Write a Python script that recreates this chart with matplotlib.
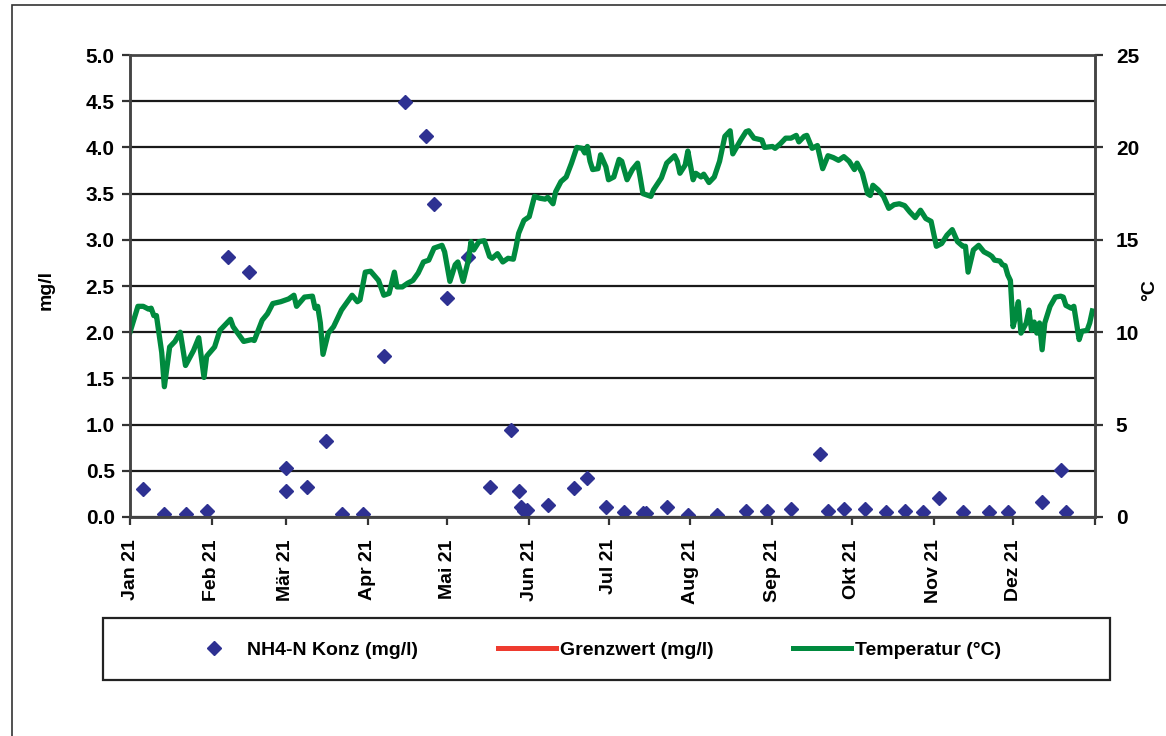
import matplotlib
matplotlib.use("Agg")
import matplotlib.pyplot as plt
import matplotlib.dates as mdates
from matplotlib.patches import Rectangle
from matplotlib.lines import Line2D
from matplotlib.ticker import FormatStrFormatter
import pandas as pd

plt.rcParams['font.family'] = ['Liberation Sans', 'DejaVu Sans']
plt.rcParams['font.weight'] = 'bold'

# NH4-N Messwerte (mg/l)
nh4_datum = ['2021-01-06', '2021-01-14', '2021-01-22', '2021-01-30', '2021-02-07', '2021-02-15',
             '2021-03-01', '2021-03-01', '2021-03-09', '2021-03-16', '2021-03-22', '2021-03-30',
             '2021-04-07', '2021-04-15', '2021-04-23', '2021-04-26', '2021-05-01', '2021-05-09',
             '2021-05-17', '2021-05-25', '2021-05-28', '2021-05-29', '2021-05-30', '2021-05-31',
             '2021-06-08', '2021-06-18', '2021-06-23', '2021-06-30', '2021-07-07', '2021-07-14',
             '2021-07-15', '2021-07-23', '2021-07-31', '2021-08-11', '2021-08-22', '2021-08-30',
             '2021-09-08', '2021-09-19', '2021-09-22', '2021-09-28', '2021-10-06', '2021-10-14',
             '2021-10-21', '2021-10-28', '2021-11-03', '2021-11-12', '2021-11-22', '2021-11-29',
             '2021-12-12', '2021-12-19', '2021-12-21']
nh4_wert = [0.30, 0.03, 0.03, 0.07, 2.81, 2.65,
            0.53, 0.28, 0.33, 0.82, 0.03, 0.03,
            1.74, 4.49, 4.12, 3.39, 2.37, 2.81,
            0.33, 0.94, 0.28, 0.11, 0.06, 0.08,
            0.13, 0.31, 0.42, 0.11, 0.05, 0.04,
            0.04, 0.11, 0.02, 0.02, 0.07, 0.07,
            0.09, 0.68, 0.07, 0.09, 0.09, 0.05,
            0.07, 0.05, 0.21, 0.05, 0.05, 0.05,
            0.16, 0.51, 0.05]

# Grenzwert: keine Werte im Zeitraum
grenzwert_datum = []
grenzwert_wert = []

# Temperatur (°C), Tag = Tage seit 1.1.2021
temp_tag = [0, 3, 5, 7, 8, 9, 10, 12, 13, 15, 17, 19, 21, 24, 26, 28, 29, 32, 34, 38,
            39, 43, 46, 47, 50, 52, 54, 57, 60, 62, 63, 66, 69, 70, 71, 72, 73, 75, 77, 80,
            84, 86, 87, 89, 91, 94, 96, 98, 100, 101, 103, 105, 107, 109, 111, 113, 115, 118, 119, 121,
            123, 124, 126, 128, 129, 130, 132, 134, 136, 137, 139, 141, 143, 145, 146, 147, 149, 151, 153, 155,
            157, 158, 160, 161, 163, 165, 167, 169, 171, 172, 173, 174, 175, 177, 178, 180, 181, 183, 185, 186,
            188, 190, 192, 193, 194, 197, 198, 201, 203, 206, 207, 208, 210, 211, 213, 214, 216, 217, 219, 221,
            223, 225, 227, 228, 231, 233, 234, 236, 239, 240, 243, 244, 246, 248, 250, 252, 253, 255, 256, 258,
            260, 262, 264, 266, 268, 270, 272, 274, 275, 277, 279, 280, 281, 283, 285, 287, 289, 291, 293, 295,
            297, 299, 301, 303, 305, 307, 309, 311, 313, 315, 316, 317, 319, 321, 323, 325, 326, 327, 329, 330,
            331, 332, 333, 334, 335, 336, 337, 339, 340, 341, 342, 343, 344, 345, 346, 348, 350, 352, 353, 354,
            356, 357, 359, 360, 362, 363, 364]
temp_wert = [10.0, 11.4, 11.4, 11.25, 11.3, 10.9, 10.9, 8.9, 7.05, 9.2, 9.5, 10.0, 8.2, 9.0, 9.7, 7.55, 8.7, 9.2, 10.1, 10.7,
             10.3, 9.5, 9.6, 9.55, 10.65, 11.0, 11.55, 11.65, 11.8, 12.0, 11.4, 11.9, 11.95, 11.3, 11.4, 10.5, 8.8, 9.95, 10.3, 11.2,
             12.0, 11.65, 11.75, 13.25, 13.3, 12.8, 12.0, 12.1, 13.25, 12.45, 12.45, 12.65, 12.8, 13.2, 13.8, 13.9, 14.55, 14.7, 14.35, 12.75,
             13.65, 13.8, 12.75, 13.9, 14.9, 14.45, 14.9, 14.95, 14.1, 14.0, 14.25, 13.8, 14.0, 13.95, 14.6, 15.35, 16.05, 16.25, 17.35, 17.25,
             17.2, 17.3, 16.95, 17.6, 18.15, 18.4, 19.15, 20.0, 19.95, 19.7, 20.05, 19.25, 18.8, 18.85, 19.6, 18.95, 18.25, 18.4, 19.35, 19.25,
             18.25, 18.8, 19.15, 18.35, 17.5, 17.35, 17.7, 18.35, 19.15, 19.55, 19.25, 18.6, 19.05, 19.8, 18.25, 18.6, 18.4, 18.55, 18.1, 18.4,
             19.25, 20.6, 20.9, 19.65, 20.4, 20.85, 20.9, 20.5, 20.4, 20.0, 20.05, 19.95, 20.2, 20.5, 20.5, 20.65, 20.3, 20.6, 20.65, 19.95,
             20.1, 18.85, 19.55, 19.45, 19.3, 19.5, 19.25, 18.8, 19.15, 18.6, 17.5, 17.4, 17.95, 17.7, 17.35, 16.7, 16.9, 16.95, 16.85, 16.5,
             16.2, 16.6, 16.15, 16.0, 14.65, 14.8, 15.25, 15.55, 14.9, 14.65, 14.65, 13.25, 14.45, 14.7, 14.35, 14.2, 14.1, 13.9, 13.85, 13.65,
             13.6, 13.1, 12.8, 10.3, 10.85, 11.65, 9.95, 10.5, 11.2, 10.1, 10.55, 9.95, 10.5, 9.05, 10.5, 11.4, 11.9, 11.95, 11.9, 11.45,
             11.3, 11.4, 9.6, 10.05, 10.1, 10.5, 11.15]

monate = ['Jan 21', 'Feb 21', 'Mär 21', 'Apr 21', 'Mai 21', 'Jun 21',
          'Jul 21', 'Aug 21', 'Sep 21', 'Okt 21', 'Nov 21', 'Dez 21', '']

blau = '#2E3192'
gruen = '#008A3E'
rot = '#EE3B2F'

start = pd.Timestamp('2021-01-01')
temp_datum = start + pd.to_timedelta(temp_tag, unit='D')
nh4_x = pd.to_datetime(nh4_datum)

W, H = 1166, 736
fig = plt.figure(figsize=(W / 100, H / 100), dpi=100)

# Rahmen um das ganze Diagramm
fig.patches.append(Rectangle((12 / W, -0.1), 1.2, 1 - 5 / H + 0.1, transform=fig.transFigure,
                             fill=False, edgecolor='#333333', lw=1.2))

ax = fig.add_axes([130 / W, 1 - 517 / H, (1095 - 130) / W, (517 - 55) / H])
ax.set_ylim(0, 5)
ax.set_yticks([i * 0.5 for i in range(11)])
ax.yaxis.set_major_formatter(FormatStrFormatter('%.1f'))
ax.grid(axis='y', color='#1a1a1a', lw=1.6)
ax.set_axisbelow(True)

ax.plot(nh4_x, nh4_wert, ls='none', marker='D', ms=7.5, color=blau, label='NH4-N Konz (mg/l)')
ax.plot(pd.to_datetime(grenzwert_datum), grenzwert_wert, color=rot, lw=3.6, label='Grenzwert (mg/l)')

ax.set_xlim(start, pd.Timestamp('2022-01-01'))
ax.set_xticks(pd.date_range('2021-01-01', periods=13, freq='MS'))
ax.set_xticklabels(monate, rotation=90, va='top', ha='center')

ax2 = ax.twinx()
ax2.plot(temp_datum, temp_wert, color=gruen, lw=3.8, solid_joinstyle='round', label='Temperatur (°C)')
ax2.set_ylim(0, 25)
ax2.set_yticks(range(0, 26, 5))

for a in (ax, ax2):
    a.tick_params(labelsize=14, width=1.6, length=6, color='#333333')
    for s in a.spines.values():
        s.set_color('#444444')
        s.set_linewidth(1.8)
ax.spines['top'].set_color('#999999')
ax.spines['top'].set_linewidth(2)
ax.tick_params(axis='y', pad=5, labelsize=15)
ax.tick_params(axis='x', pad=10)
ax2.tick_params(axis='y', pad=9, labelsize=15)

fig.text(46 / W, 1 - 290 / H, 'mg/l', rotation=90, ha='center', va='center', fontsize=14)
fig.text(1150 / W, 1 - 290 / H, '°C', rotation=90, ha='center', va='center', fontsize=14)

# Legende
fig.patches.append(Rectangle((103 / W, 1 - 680 / H), (1110 - 103) / W, 62 / H, transform=fig.transFigure,
                             fill=False, edgecolor='#222222', lw=1.6))
handles = [Line2D([], [], ls='none', marker='D', ms=7.5, color=blau),
           Line2D([], [], color=rot, lw=3.6),
           Line2D([], [], color=gruen, lw=3.6)]
labels = ['NH4-N Konz (mg/l)', 'Grenzwert (mg/l)', 'Temperatur (°C)']
fig.legend(handles, labels, loc='center', bbox_to_anchor=(593 / W, 1 - 650 / H), ncol=3, frameon=False,
           prop={'size': 14, 'weight': 'bold'}, handlelength=3.0, handletextpad=0.2, columnspacing=4.1)

fig.savefig('out.png', dpi=100)
